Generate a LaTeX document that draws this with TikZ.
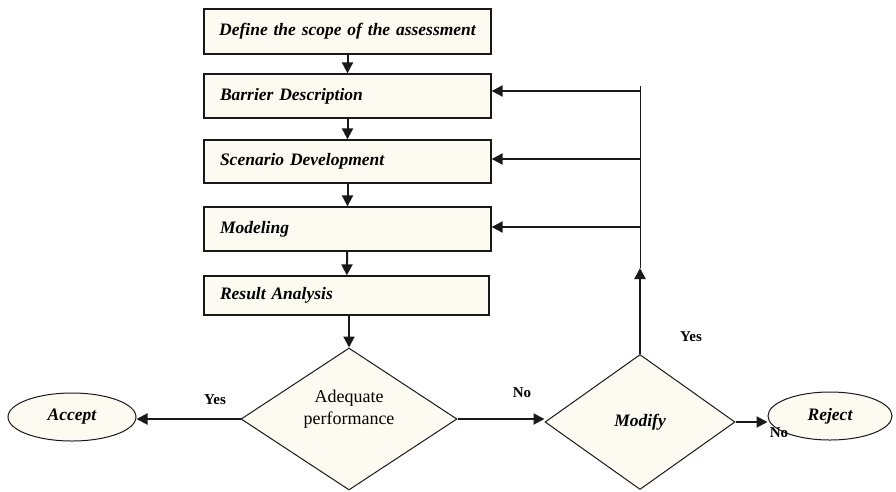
\documentclass[tikz,border=0pt]{standalone}
\usepackage{fontspec}
\setmainfont{Liberation Serif}
\usetikzlibrary{shapes.geometric,arrows.meta}
\definecolor{cream}{RGB}{253,251,241}
\definecolor{ink}{RGB}{25,25,25}
\begin{document}
\begin{tikzpicture}[x=1pt,y=-1pt,
  stepbox/.style={draw=ink, line width=1.3pt, fill=cream, inner xsep=16pt, inner ysep=0pt,
    text width=255pt, align=left, font=\bfseries\itshape\fontsize{17.5}{20}\selectfont},
  decision/.style={diamond, draw=ink, line width=1pt, fill=cream, inner sep=0pt, aspect=1.5},
  terminal/.style={ellipse, draw=ink, line width=1pt, fill=cream, inner sep=0pt,
    font=\bfseries\itshape\fontsize{17.5}{20}\selectfont},
  arr/.style={-{Triangle[length=11pt,width=11pt]}, line width=2pt, draw=ink},
  feed/.style={line width=1pt, draw=ink},
  tag/.style={font=\bfseries\fontsize{15}{18}\selectfont, inner sep=0pt}]

\useasboundingbox (0,0) rectangle (896,491);

% process steps
\node[stepbox, minimum height=45pt, inner xsep=4pt, text width=279pt, align=center] (b1) at (347.5,31.5)
  {Define the scope of the assessment};
\node[stepbox, minimum height=44pt] (b2) at (347.5,96) {Barrier Description};
\node[stepbox, minimum height=43pt] (b3) at (347.5,161.5) {Scenario Development};
\node[stepbox, minimum height=44pt] (b4) at (347.5,229) {Modeling};
\node[stepbox, minimum height=39pt, text width=253pt] (b5) at (346.5,295.5) {Result Analysis};

% decisions and outcomes
\node[decision, minimum width=216pt, minimum height=142pt, align=center,
      font=\fontsize{18}{22}\selectfont] (d1) at (349,419) {Adequate\\performance\\[2pt]};
\node[decision, minimum width=190pt, minimum height=135pt,
      font=\bfseries\itshape\fontsize{17.5}{20}\selectfont] (d2) at (640,422) {Modify\\[1pt]};
\node[terminal, minimum width=128pt, minimum height=48pt] (acc) at (72,417) {Accept};
\node[terminal, minimum width=124pt, minimum height=48pt] (rej) at (830,416) {Reject};

% main flow
\draw[arr] (b1) -- (b2);
\draw[arr] (b2) -- (b3);
\draw[arr] (b3) -- (b4);
\draw[arr] (b4) -- (b5);
\draw[arr] (b5.south -| d1.north) -- (d1.north);
\draw[arr] (d1.west) -- (d1.west -| acc.east);
\draw[arr] (d1.east) -- (d1.east -| d2.west);
\draw[arr] (d2.east) -- (d2.east -| rej.west);

% feedback loop from Modify
\coordinate (ftop) at (640,86);
\coordinate (fup) at (640,268);
\coordinate (f2) at (640,91);
\coordinate (f3) at (640,159);
\coordinate (f4) at (640,227);
\draw[arr] (d2.north) -- (fup);
\draw[feed] (fup) -- (ftop);
\draw[arr] (f2) -- (f2 -| b2.east);
\draw[arr] (f3) -- (f3 -| b3.east);
\draw[arr] (f4) -- (f4 -| b4.east);

% branch labels
\node[tag] (yes1) at (215,400) {Yes};
\node[tag] (no1) at (522,393) {No};
\node[tag] (yes2) at (691,337) {Yes};
\node[tag] (no2) at (779,433) {No};
\end{tikzpicture}
\end{document}
